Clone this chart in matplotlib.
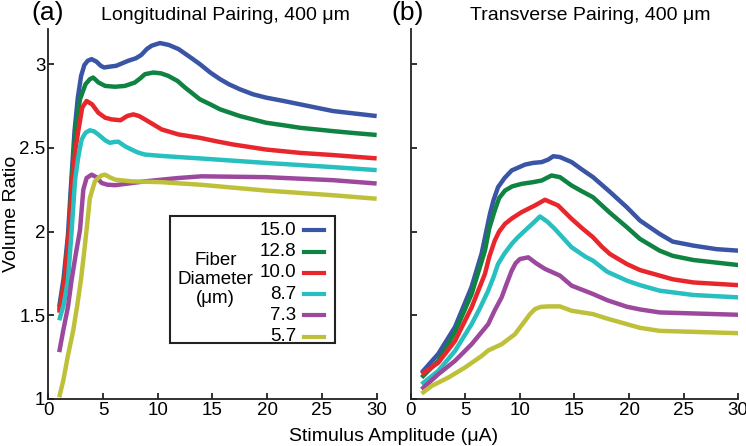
import matplotlib
matplotlib.use('Agg')
from matplotlib import pyplot as plt
from matplotlib.patches import Rectangle
from matplotlib.lines import Line2D

plt.rcParams['font.family'] = ['Liberation Sans', 'DejaVu Sans']

# Fiber diameters (um) and their colours
diameters = ['15.0', '12.8', '10.0', '8.7', '7.3', '5.7']
colors = ['#3a55a6', '#0f8442', '#e8262b', '#27bfc0', '#9c489d', '#bfc03a']

# (a) Longitudinal pairing -- stimulus amplitude (uA) vs volume ratio
long_x_150 = [1.0, 1.4, 1.8, 2.1, 2.4, 2.7, 3.0, 3.3, 3.6, 3.96, 4.4, 4.8, 5.1, 5.6, 6.2, 7.3, 8.0, 8.5, 9.0, 9.44,
              10.2, 11.0, 11.9, 13.0, 13.85, 14.8, 15.7, 16.5, 17.5, 18.7, 19.9, 21.5, 23.0, 24.5, 26.0, 28.0, 30.0]
long_y_150 = [1.55, 1.72, 1.98, 2.30, 2.60, 2.80, 2.93, 2.995, 3.02, 3.03, 3.015, 2.99, 2.98, 2.985, 2.99, 3.02, 3.035,
              3.055, 3.09, 3.11, 3.126, 3.115, 3.09, 3.04, 3.0, 2.95, 2.91, 2.88, 2.85, 2.82, 2.80, 2.78, 2.76, 2.74,
              2.72, 2.705, 2.69]
long_x_128 = [1.0, 1.46, 1.89, 2.15, 2.5, 2.9, 3.4, 3.8, 4.1, 4.6, 5.2, 6.1, 7.0, 7.9, 8.4, 8.83, 9.6, 10.3, 10.96,
              11.8, 12.5, 13.85, 14.8, 15.7, 17.5, 19.9, 21.5, 23.0, 26.0, 28.0, 30.0]
long_y_128 = [1.53, 1.71, 2.01, 2.31, 2.62, 2.79, 2.88, 2.91, 2.92, 2.89, 2.87, 2.865, 2.87, 2.89, 2.915, 2.94, 2.95,
              2.945, 2.93, 2.90, 2.86, 2.79, 2.76, 2.73, 2.69, 2.65, 2.635, 2.62, 2.60, 2.588, 2.577]
long_x_100 = [1.0, 1.5, 1.9, 2.2, 2.5, 2.74, 3.1, 3.5, 4.0, 4.57, 5.2, 5.8, 6.6, 7.2, 7.77, 8.3, 8.83, 9.6, 10.36,
              11.9, 13.85, 15.3, 16.9, 19.9, 23.0, 26.0, 30.0]
long_y_100 = [1.515, 1.72, 2.01, 2.31, 2.50, 2.60, 2.74, 2.78, 2.76, 2.71, 2.68, 2.67, 2.665, 2.69, 2.70, 2.69, 2.67,
              2.64, 2.61, 2.58, 2.56, 2.54, 2.52, 2.49, 2.47, 2.457, 2.437]
long_x_87 = [1.0, 1.4, 1.8, 2.14, 2.45, 2.75, 3.05, 3.4, 3.8, 4.2, 4.57, 5.2, 5.63, 6.0, 6.4, 7.0, 7.6, 8.2, 8.83,
             10.3, 11.9, 13.85, 19.9, 26.0, 30.0]
long_y_87 = [1.47, 1.56, 1.71, 2.01, 2.31, 2.45, 2.55, 2.59, 2.605, 2.598, 2.58, 2.545, 2.53, 2.535, 2.537, 2.51, 2.49,
             2.472, 2.46, 2.452, 2.445, 2.437, 2.41, 2.385, 2.367]
long_x_73 = [1.0, 1.37, 1.8, 2.13, 2.5, 2.9, 3.2, 3.5, 3.96, 4.4, 4.88, 5.4, 6.1, 7.3, 8.83, 11.9, 14.0, 19.9, 26.0,
             30.0]
long_y_73 = [1.28, 1.41, 1.55, 1.71, 1.86, 2.01, 2.25, 2.32, 2.34, 2.325, 2.29, 2.28, 2.277, 2.287, 2.30, 2.32, 2.33,
             2.325, 2.307, 2.287]
long_x_57 = [1.0, 1.37, 1.8, 2.28, 2.65, 2.98, 3.25, 3.5, 3.8, 4.26, 4.57, 4.85, 5.18, 5.6, 6.1, 7.6, 10.36, 13.85,
             19.9, 26.0, 30.0]
long_y_57 = [1.01, 1.11, 1.26, 1.41, 1.56, 1.71, 1.86, 2.01, 2.20, 2.30, 2.32, 2.335, 2.34, 2.325, 2.31, 2.30, 2.295,
             2.28, 2.245, 2.217, 2.196]

# (b) Transverse pairing
trans_x_150 = [1.0, 2.53, 4.06, 5.58, 6.5, 7.26, 7.6, 8.0, 8.6, 9.25, 10.47, 11.2, 12.0, 12.6, 13.06, 13.67, 14.74,
               15.7, 16.7, 18.2, 19.8, 21.0, 22.8, 24.0, 25.9, 28.0, 30.0]
trans_y_150 = [1.157, 1.27, 1.43, 1.67, 1.87, 2.106, 2.19, 2.265, 2.32, 2.365, 2.40, 2.41, 2.415, 2.43, 2.45, 2.445,
               2.415, 2.37, 2.325, 2.24, 2.145, 2.066, 1.986, 1.94, 1.916, 1.895, 1.886]
trans_x_128 = [1.0, 2.53, 4.06, 5.58, 6.8, 7.2, 7.7, 8.1, 8.64, 9.3, 10.16, 11.2, 12.0, 12.9, 13.67, 14.74, 15.7, 16.7,
               18.2, 19.8, 21.0, 22.8, 24.0, 25.9, 30.0]
trans_y_128 = [1.128, 1.228, 1.40, 1.627, 1.886, 2.02, 2.126, 2.20, 2.245, 2.27, 2.285, 2.295, 2.305, 2.335, 2.325,
               2.275, 2.24, 2.205, 2.115, 2.026, 1.956, 1.886, 1.855, 1.83, 1.80]
trans_x_100 = [1.0, 2.53, 4.06, 5.58, 6.8, 7.2, 7.7, 8.1, 8.64, 9.3, 10.16, 11.38, 12.3, 13.5, 14.74, 15.7, 16.7, 17.5,
               18.25, 19.8, 21.0, 22.8, 24.0, 25.9, 30.0]
trans_y_100 = [1.148, 1.217, 1.347, 1.547, 1.747, 1.85, 1.946, 2.0, 2.046, 2.08, 2.116, 2.156, 2.19, 2.156, 2.076,
               2.02, 1.966, 1.91, 1.866, 1.806, 1.77, 1.737, 1.715, 1.696, 1.68]
trans_x_87 = [1.0, 2.53, 4.06, 5.58, 6.4, 7.1, 7.6, 8.0, 8.6, 9.25, 9.8, 10.47, 11.2, 11.84, 12.5, 13.2, 14.74, 16.0,
              16.7, 18.0, 19.8, 21.0, 22.8, 25.9, 30.0]
trans_y_87 = [1.088, 1.168, 1.287, 1.447, 1.55, 1.647, 1.73, 1.806, 1.87, 1.926, 1.965, 2.006, 2.05, 2.09, 2.06, 2.016,
              1.906, 1.85, 1.826, 1.76, 1.707, 1.68, 1.647, 1.621, 1.607]
trans_x_73 = [1.0, 2.53, 4.06, 5.58, 7.1, 7.7, 8.33, 8.8, 9.25, 9.6, 10.0, 10.77, 11.5, 12.3, 13.67, 14.74, 16.7, 18.0,
              19.8, 21.0, 22.8, 30.0]
trans_y_73 = [1.058, 1.148, 1.228, 1.327, 1.447, 1.53, 1.607, 1.69, 1.766, 1.81, 1.836, 1.846, 1.81, 1.777, 1.737,
              1.677, 1.627, 1.59, 1.551, 1.535, 1.517, 1.503]
trans_x_57 = [1.0, 1.92, 3.45, 4.97, 6.5, 7.1, 8.33, 9.55, 10.47, 10.9, 11.38, 11.9, 12.6, 13.67, 14.74, 16.7, 18.0,
              19.8, 21.0, 22.8, 30.0]
trans_y_57 = [1.032, 1.078, 1.128, 1.188, 1.257, 1.29, 1.327, 1.387, 1.467, 1.505, 1.537, 1.55, 1.553, 1.553, 1.527,
              1.507, 1.48, 1.447, 1.425, 1.407, 1.393]

long_series = [(long_x_150, long_y_150), (long_x_128, long_y_128), (long_x_100, long_y_100),
               (long_x_87, long_y_87), (long_x_73, long_y_73), (long_x_57, long_y_57)]
trans_series = [(trans_x_150, trans_y_150), (trans_x_128, trans_y_128), (trans_x_100, trans_y_100),
                (trans_x_87, trans_y_87), (trans_x_73, trans_y_73), (trans_x_57, trans_y_57)]

x_ticks = [0, 5, 10, 15, 20, 25, 30]
y_ticks = [1, 1.5, 2, 2.5, 3]
y_tick_labels = ['1', '1.5', '2', '2.5', '3']

fig = plt.figure(figsize=(7.46, 4.46), dpi=100)
ax_a = fig.add_axes([0.0647, 0.1054, 0.4402, 0.8296])
ax_b = fig.add_axes([0.5505, 0.1054, 0.4391, 0.8296])

for ax, series in ((ax_a, long_series), (ax_b, trans_series)):
    for (xs, ys), c in zip(series, colors):
        ax.plot(xs, ys, color=c, lw=3.2, solid_capstyle='butt', solid_joinstyle='round')
    ax.set_xlim(0, 30)
    ax.set_ylim(1, 3.21)
    ax.set_xticks(x_ticks)
    ax.set_yticks(y_ticks)
    for side in ('top', 'right'):
        ax.spines[side].set_visible(False)
    for side in ('left', 'bottom'):
        ax.spines[side].set_linewidth(1.3)
        ax.spines[side].set_color('#222222')
    ax.tick_params(direction='in', length=4, width=1.3, labelsize=13.5, color='#222222', pad=2)

ax_a.set_yticklabels(y_tick_labels)
ax_b.set_yticklabels([])

fig.text(0.042, 0.970, '(a)', fontsize=19, va='center', ha='left')
fig.text(0.302, 0.966, 'Longitudinal Pairing, 400 \u03bcm', fontsize=14, va='center', ha='center')
fig.text(0.524, 0.970, '(b)', fontsize=19, va='center', ha='left')
fig.text(0.791, 0.966, 'Transverse Pairing, 400 \u03bcm', fontsize=14, va='center', ha='center')
fig.text(0.527, 0.022, 'Stimulus Amplitude (\u03bcA)', fontsize=14, va='center', ha='center')
fig.text(0.016, 0.52, 'Volume Ratio', fontsize=14, va='center', ha='center', rotation=90)

# legend box drawn by hand: caption on the left, diameters with colour swatches on the right
box = Rectangle((0.372, 0.15), 0.50, 0.345, transform=ax_a.transAxes, fill=False, lw=1.5,
                edgecolor='#222222')
ax_a.add_patch(box)
ax_a.text(0.51, 0.3225, 'Fiber\nDiameter\n(\u03bcm)', transform=ax_a.transAxes, fontsize=13.5,
          ha='center', va='center', linespacing=1.15)
for i, (lab, c) in enumerate(zip(diameters, colors)):
    yy = 0.456 - i * 0.0575
    ax_a.text(0.755, yy, lab, transform=ax_a.transAxes, fontsize=13.5, ha='right', va='center')
    ax_a.add_line(Line2D([0.78, 0.84], [yy, yy], transform=ax_a.transAxes, color=c, lw=3.0))

fig.savefig('out.png', dpi=100)
